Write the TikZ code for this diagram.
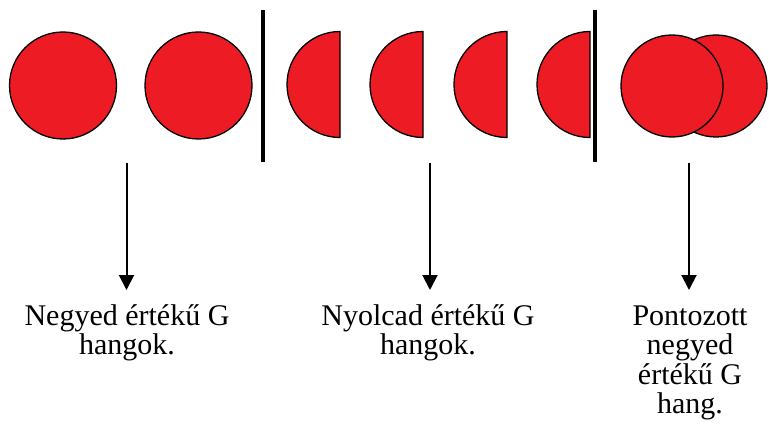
\documentclass[tikz,border=0pt]{standalone}
\usepackage{fontspec}
\setmainfont{Liberation Serif}
\usetikzlibrary{arrows.meta}
\definecolor{notered}{HTML}{ED1C24}
\begin{document}
\begin{tikzpicture}[x=1pt,y=1pt,
  note/.style={circle,draw=black,fill=notered,line width=1.3pt,inner sep=0pt,minimum size=#1},
  half/.style={draw=black,fill=notered,line width=1.3pt},
  bar/.style={line width=4pt},
  arr/.style={line width=2pt,-{Triangle[width=15pt,length=15pt]}},
  lbl/.style={font=\fontsize{30}{29.5}\selectfont,align=center,inner sep=0pt,anchor=base}]
\useasboundingbox (0,0) rectangle (769,440);
% full quarter notes
\node[note=107pt] (c1) at (63,354.5) {};
\node[note=107pt] (c2) at (198.5,354.5) {};
% bars
\coordinate (b1t) at (263,430); \coordinate (b1b) at (263,278);
\coordinate (b2t) at (595,430); \coordinate (b2b) at (595,278);
\draw[bar] (b1t) -- (b1b);
\draw[bar] (b2t) -- (b2b);
% half circles (eighths)
\foreach \xx in {340,423,507,590}{
  \draw[half] (\xx,408.5) arc[start angle=90,end angle=270,radius=53] -- cycle;
}
% dotted quarter
\node[note=102pt] (d2) at (716,354) {};
\node[note=102pt] (d1) at (672,354) {};
% labels (anchor = baseline of last line)
\node[lbl] (t1) at (127,85.5) {Negyed értékű G\\hangok.};
\node[lbl] (t2) at (428,85.5) {Nyolcad értékű G\\hangok.};
\node[lbl] (t3) at (690,26.5) {Pontozott\\negyed\\értékű G\\hang.};
% arrows
\coordinate (s1) at (126.5,277);
\coordinate (s2) at (430,277);
\coordinate (s3) at (689,277);
\draw[arr] (s1) -- (s1 |- 0,150);
\draw[arr] (s2) -- (s2 |- 0,150);
\draw[arr] (s3) -- (s3 |- 0,150);
\end{tikzpicture}
\end{document}
